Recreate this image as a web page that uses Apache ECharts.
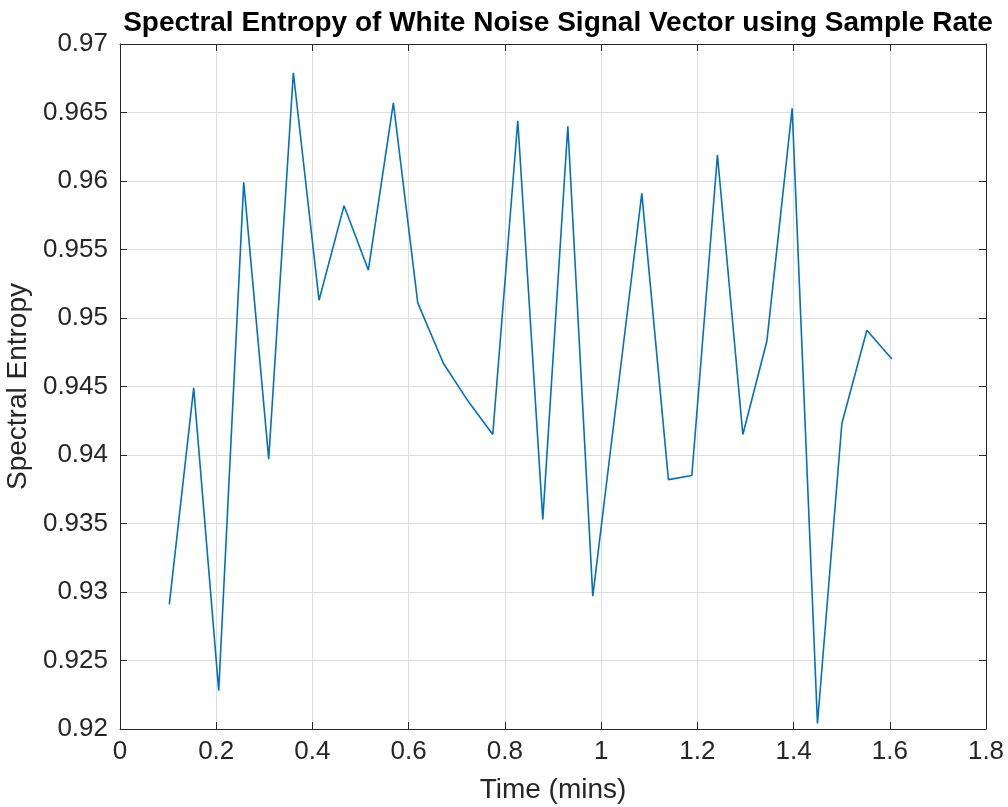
<!DOCTYPE html>
<html>
<head>
<meta charset="utf-8">
<script src="https://cdn.jsdelivr.net/npm/echarts@6/dist/echarts.min.js"></script>
<style>
html,body{margin:0;padding:0;background:#fff;}
#chart{width:1008px;height:807px;}
</style>
</head>
<body>
<div id="chart"></div>
<script>
// Time (mins) of each spectral-entropy frame
var timeMins = [0.1025, 0.1532, 0.2052, 0.2572, 0.3091, 0.3603, 0.4137, 0.4657, 0.5162, 0.5682,
                0.6189, 0.6721, 0.7241, 0.7748, 0.8268, 0.8788, 0.9308, 0.9827, 1.0343, 1.0846,
                1.1399, 1.1886, 1.2418, 1.2946, 1.3445, 1.3971, 1.4497, 1.5004, 1.5524, 1.6044];
// Spectral entropy values
var entropy = [0.9291, 0.9449, 0.9228, 0.9599, 0.9397, 0.9679, 0.9513, 0.9582, 0.9535, 0.9657,
               0.9511, 0.9467, 0.9439, 0.9415, 0.9644, 0.9353, 0.9640, 0.9297, 0.9446, 0.9591,
               0.9382, 0.9385, 0.9619, 0.9415, 0.9483, 0.9653, 0.9204, 0.9423, 0.9491, 0.9470];
var titleText = 'Spectral Entropy of White Noise Signal Vector using Sample Rate';
var xLabel = 'Time (mins)';
var yLabel = 'Spectral Entropy';
var xRange = [0, 1.8], xStep = 0.2;
var yRange = [0.92, 0.97], yStep = 0.005;

var pts = timeMins.map(function (t, i) { return [t, entropy[i]]; });

var axisColor = '#262626';
var gridColor = '#dedede';
var font = 'Liberation Sans, Arial, Helvetica, sans-serif';

function fmtX(v) { return String(parseFloat(v.toFixed(1))); }
function fmtY(v) { return String(parseFloat(v.toFixed(3))); }

var chart = echarts.init(document.getElementById('chart'), null, {renderer: 'canvas'});
chart.setOption({
  animation: false,
  backgroundColor: '#ffffff',
  title: {
    text: titleText,
    left: 553,
    textAlign: 'center',
    top: 4,
    textStyle: {fontFamily: font, fontSize: 28, fontWeight: 'bold', color: '#000000'}
  },
  grid: {left: 120, right: 22, top: 44, bottom: 78, containLabel: false, outerBoundsMode: 'none'},
  xAxis: [{
    type: 'value', min: xRange[0], max: xRange[1], interval: xStep,
    name: xLabel, nameLocation: 'middle', nameGap: 47,
    nameTextStyle: {fontFamily: font, fontSize: 28, color: axisColor},
    axisLine: {show: true, onZero: false, lineStyle: {color: axisColor, width: 1}},
    axisTick: {show: true, inside: true, length: 7, lineStyle: {color: axisColor}},
    axisLabel: {fontFamily: font, fontSize: 26, color: axisColor, margin: 10, formatter: fmtX},
    splitLine: {show: true, lineStyle: {color: gridColor, width: 1}}
  }, {
    type: 'value', position: 'top', min: xRange[0], max: xRange[1], interval: xStep,
    axisLine: {show: true, onZero: false, lineStyle: {color: axisColor, width: 1}},
    axisTick: {show: true, inside: true, length: 7, lineStyle: {color: axisColor}},
    axisLabel: {show: false},
    splitLine: {show: false}
  }],
  yAxis: [{
    type: 'value', min: yRange[0], max: yRange[1], interval: yStep,
    name: yLabel, nameLocation: 'middle', nameGap: 80, nameRotate: 90,
    nameTextStyle: {fontFamily: font, fontSize: 28, color: axisColor},
    axisLine: {show: true, onZero: false, lineStyle: {color: axisColor, width: 1}},
    axisTick: {show: true, inside: true, length: 7, lineStyle: {color: axisColor}},
    axisLabel: {fontFamily: font, fontSize: 26, color: axisColor, margin: 12, formatter: fmtY},
    splitLine: {show: true, lineStyle: {color: gridColor, width: 1}}
  }, {
    type: 'value', position: 'right', min: yRange[0], max: yRange[1], interval: yStep,
    axisLine: {show: true, onZero: false, lineStyle: {color: axisColor, width: 1}},
    axisTick: {show: true, inside: true, length: 7, lineStyle: {color: axisColor}},
    axisLabel: {show: false},
    splitLine: {show: false}
  }],
  series: [{
    type: 'line',
    data: pts,
    xAxisIndex: 0, yAxisIndex: 0,
    showSymbol: false,
    symbol: 'none',
    lineStyle: {color: '#0072BD', width: 1.6},
    itemStyle: {color: '#0072BD'}
  }]
});
</script>
</body>
</html>
